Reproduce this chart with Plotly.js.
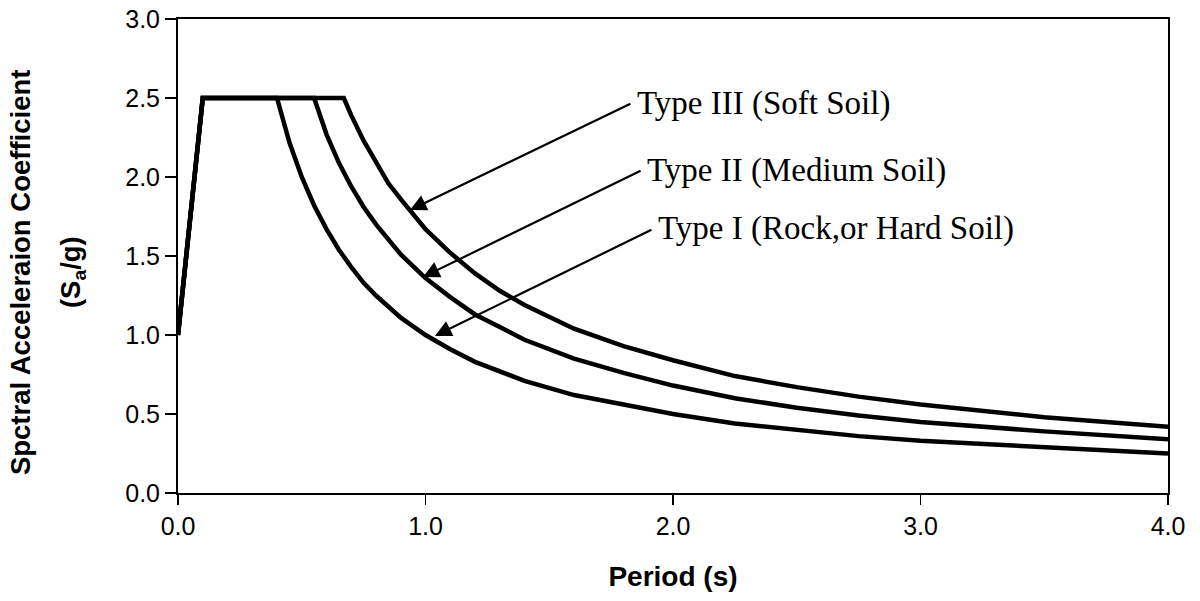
<!DOCTYPE html>
<html><head><meta charset="utf-8">
<script src="https://cdn.plot.ly/plotly-3.0.1.min.js"></script>
<style>body{margin:0;background:#fff}#chart{width:1200px;height:601px}</style>
</head><body><div id="chart"></div>
<script>
// Period (s) and Sa/g
const periodRock = [0, 0.1, 0.4, 0.45, 0.5, 0.55, 0.6, 0.65, 0.7, 0.75, 0.8, 0.9, 1.0, 1.1, 1.2, 1.3, 1.4, 1.6, 1.8, 2.0, 2.25, 2.5, 2.75, 3.0, 3.5, 4.0];
const saRock     = [1.0, 2.5, 2.5, 2.22, 2.0, 1.82, 1.67, 1.54, 1.43, 1.33, 1.25, 1.11, 1.0, 0.91, 0.83, 0.77, 0.71, 0.62, 0.56, 0.5, 0.44, 0.4, 0.36, 0.33, 0.29, 0.25];
const periodMedium = [0, 0.1, 0.55, 0.6, 0.65, 0.7, 0.75, 0.8, 0.9, 1.0, 1.1, 1.2, 1.3, 1.4, 1.6, 1.8, 2.0, 2.25, 2.5, 2.75, 3.0, 3.5, 4.0];
const saMedium     = [1.0, 2.5, 2.5, 2.27, 2.09, 1.94, 1.81, 1.70, 1.51, 1.36, 1.24, 1.13, 1.05, 0.97, 0.85, 0.76, 0.68, 0.60, 0.54, 0.49, 0.45, 0.39, 0.34];
const periodSoft = [0, 0.1, 0.67, 0.7, 0.75, 0.8, 0.85, 0.9, 1.0, 1.1, 1.2, 1.3, 1.4, 1.6, 1.8, 2.0, 2.25, 2.5, 2.75, 3.0, 3.5, 4.0];
const saSoft     = [1.0, 2.5, 2.5, 2.39, 2.23, 2.09, 1.96, 1.86, 1.67, 1.52, 1.39, 1.28, 1.19, 1.04, 0.93, 0.84, 0.74, 0.67, 0.61, 0.56, 0.48, 0.42];
const labels = ['Type III (Soft Soil)', 'Type II (Medium Soil)', 'Type I (Rock,or Hard Soil)'];
const yTitleLines = ['Spctral Acceleraion Coefficient', '(S<sub>a</sub>/g)'];
const xTitle = 'Period (s)';
const xTicks = [0, 1, 2, 3, 4];
const xTickText = ['0.0', '1.0', '2.0', '3.0', '4.0'];
const yTicks = [0, 0.5, 1, 1.5, 2, 2.5, 3];
const yTickText = ['0.0', '0.5', '1.0', '1.5', '2.0', '2.5', '3.0'];

const line = {color: '#000', width: 4.5, shape: 'linear'};
const traces = [
  {x: periodRock, y: saRock, mode: 'lines', line: line, name: labels[2]},
  {x: periodMedium, y: saMedium, mode: 'lines', line: line, name: labels[1]},
  {x: periodSoft, y: saSoft, mode: 'lines', line: line, name: labels[0]}
];

// arrow tails (text side) and heads (curve side)
const arrows = [
  {tx: 1.834, ty: 2.468, hx: 0.937, hy: 1.791, lx: 1.846},
  {tx: 1.875, ty: 2.044, hx: 0.990, hy: 1.367, lx: 1.887},
  {tx: 1.919, ty: 1.671, hx: 1.038, hy: 0.994, lx: 1.931}
];
const annotations = [];
arrows.forEach((a, i) => {
  annotations.push({x: a.hx, y: a.hy, ax: a.tx, ay: a.ty, xref: 'x', yref: 'y', axref: 'x', ayref: 'y',
    text: '', showarrow: true, arrowhead: 2, arrowsize: 1.5, arrowwidth: 2.2, arrowcolor: '#000'});
  annotations.push({x: a.lx, y: a.ty, xref: 'x', yref: 'y', text: labels[i], showarrow: false,
    xanchor: 'left', yanchor: 'middle', font: {family: 'Liberation Serif, Times New Roman, serif', size: 33, color: '#000'}});
});
// y-axis title, two lines
annotations.push({xref: 'paper', yref: 'paper', x: -0.1596, y: 0.466, textangle: -90, showarrow: false,
  xanchor: 'center', yanchor: 'middle', text: '<b>' + yTitleLines[0] + '</b>', font: {size: 27.5}});
annotations.push({xref: 'paper', yref: 'paper', x: -0.1071, y: 0.466, textangle: -90, showarrow: false,
  xanchor: 'center', yanchor: 'middle', text: '<b>' + yTitleLines[1] + '</b>', font: {size: 27.5}});

const layout = {
  width: 1200, height: 601,
  margin: {l: 178, r: 32, t: 19, b: 108},
  paper_bgcolor: '#fff', plot_bgcolor: '#fff',
  showlegend: false,
  font: {family: 'Liberation Sans, Arial, sans-serif', color: '#000', size: 24},
  xaxis: {range: [0, 4], tickvals: xTicks, ticktext: xTickText, showgrid: false, zeroline: false,
    showline: true, linecolor: '#000', linewidth: 2, mirror: true, ticks: 'outside', ticklen: 10, tickwidth: 1.5, tickcolor: '#000',
    tickfont: {size: 25}, title: {text: '<b>' + xTitle + '</b>', font: {size: 28}, standoff: 27}},
  yaxis: {range: [0, 3], tickvals: yTicks, ticktext: yTickText, showgrid: false, zeroline: false,
    showline: true, linecolor: '#000', linewidth: 2, mirror: true, ticks: 'outside', ticklen: 11, tickwidth: 1.5, tickcolor: '#000',
    tickfont: {size: 25}, ticksuffix: '\u00a0\u00a0'},
  annotations: annotations
};
Plotly.newPlot('chart', traces, layout, {displayModeBar: false, staticPlot: true});
</script></body></html>
